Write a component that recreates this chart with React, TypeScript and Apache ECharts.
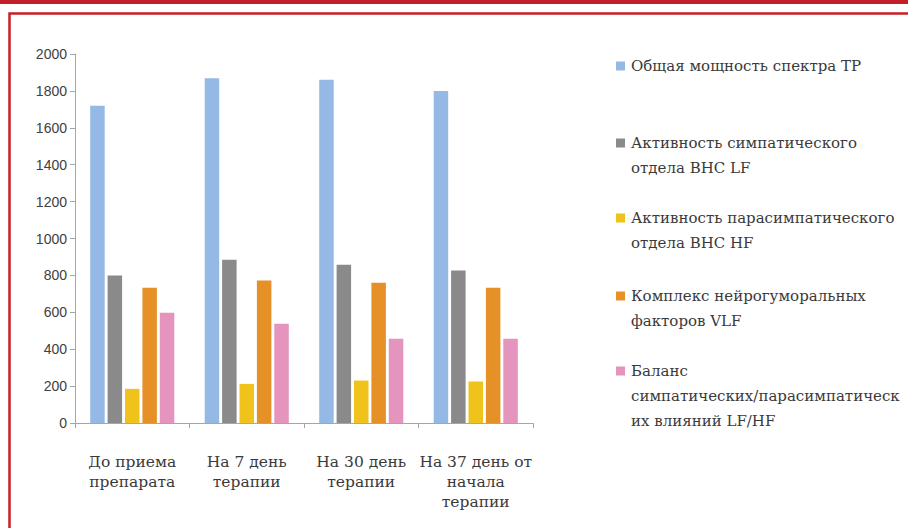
import React, { useEffect, useRef } from "react";
import * as echarts from "echarts";

const categories = [
  "До приема\nпрепарата",
  "На 7 день\nтерапии",
  "На 30 день\nтерапии",
  "На 37 день от\nначала\nтерапии",
];

const seriesNames = [
  "Общая мощность спектра ТР",
  "Активность симпатического отдела ВНС LF",
  "Активность парасимпатического отдела ВНС HF",
  "Комплекс нейрогуморальных факторов VLF",
  "Баланс симпатических/парасимпатических влияний LF/HF",
];

const legendLabels = [
  "Общая мощность спектра ТР",
  "Активность симпатического\nотдела ВНС LF",
  "Активность парасимпатического\nотдела ВНС HF",
  "Комплекс нейрогуморальных\nфакторов VLF",
  "Баланс\nсимпатических/парасимпатическ\nих влияний LF/HF",
];

const totalPowerTP = [1720, 1868, 1860, 1800];
const sympatheticLF = [800, 885, 858, 826];
const parasympatheticHF = [185, 212, 230, 225];
const neurohumoralVLF = [733, 773, 760, 733];
const balanceLFHF = [598, 538, 456, 456];

const seriesValues = [
  totalPowerTP,
  sympatheticLF,
  parasympatheticHF,
  neurohumoralVLF,
  balanceLFHF,
];

const colors = ["#95b9e5", "#8a8a8a", "#efc31b", "#e59127", "#e494bd"];

const legendTops = [53.5, 130.5, 205.5, 283.5, 358.5];

export default function App() {
  const ref = useRef<HTMLDivElement>(null);

  useEffect(() => {
    if (!ref.current) return;
    const chart = echarts.init(ref.current, undefined, { renderer: "svg" });

    const lineH = 25;
    const legends = seriesNames.map((name, i) => {
      const n = legendLabels[i].split("\n").length;
      const H = n * lineH;
      return {
        show: true,
        orient: "vertical",
        left: 616,
        top: legendTops[i],
        padding: 0,
        itemWidth: 10,
        itemHeight: H,
        itemGap: 0,
        selectedMode: false,
        icon: `path://M0,0M0,8L9,8L9,17L0,17ZM10,${H}`,
        data: [name],
        formatter: () => legendLabels[i],
        textStyle: {
          fontFamily: "DejaVu Serif",
          fontSize: 15,
          color: "#3a3a3a",
          lineHeight: lineH,
        },
      };
    });

    chart.setOption({
      animation: false,
      backgroundColor: "#ffffff",
      graphic: [
        {
          type: "rect",
          shape: { x: 0, y: 0, width: 908, height: 4 },
          style: { fill: "#c21f28" },
          silent: true,
        },
        {
          type: "rect",
          shape: { x: 9.5, y: 13.5, width: 1000, height: 1000 },
          style: { fill: "none", stroke: "#c62129", lineWidth: 2.5 },
          silent: true,
        },
      ],
      legend: legends,
      grid: { left: 75, right: 375, top: 54, bottom: 105 },
      xAxis: {
        type: "category",
        data: categories,
        axisLine: { lineStyle: { color: "#a6a6a6", width: 1 } },
        axisTick: { show: true, length: 5, lineStyle: { color: "#a6a6a6" } },
        axisLabel: {
          interval: 0,
          margin: 29,
          fontFamily: "DejaVu Serif",
          fontSize: 15.5,
          lineHeight: 20,
          color: "#3a3a3a",
        },
      },
      yAxis: {
        type: "value",
        min: 0,
        max: 2000,
        interval: 200,
        splitLine: { show: false },
        axisLine: { show: true, lineStyle: { color: "#a6a6a6", width: 1 } },
        axisTick: { show: true, length: 5, lineStyle: { color: "#a6a6a6" } },
        axisLabel: {
          margin: 8,
          fontFamily: "Liberation Sans",
          fontSize: 14,
          color: "#404040",
          formatter: (v: number) => String(v),
        },
      },
      series: seriesNames.map((name, i) => ({
        name,
        type: "bar",
        data: seriesValues[i],
        barWidth: 14.5,
        barGap: "20%",
        itemStyle: { color: colors[i] },
      })),
    });

    return () => chart.dispose();
  }, []);

  return (
    <div
      ref={ref}
      style={{ position: "absolute", left: 0, top: 0, width: 908, height: 528 }}
    />
  );
}
